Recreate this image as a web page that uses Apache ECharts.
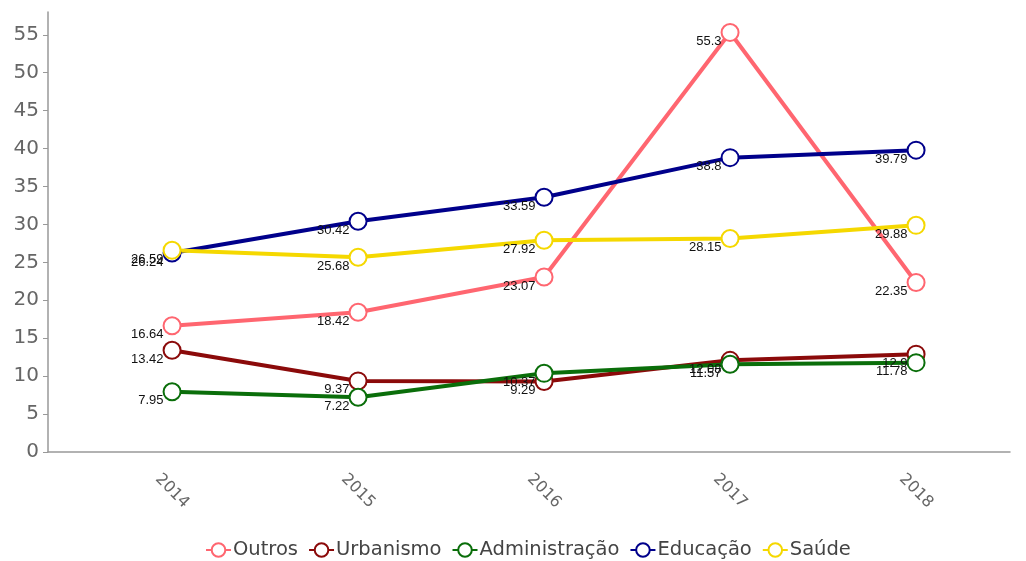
<!DOCTYPE html>
<html>
<head>
<meta charset="utf-8">
<script src="https://cdn.jsdelivr.net/npm/echarts@6/dist/echarts.min.js"></script>
<style>
html,body{margin:0;padding:0;background:#fff;}
#chart{width:1026px;height:561px;}
</style>
</head>
<body>
<div id="chart"></div>
<script>
var years = [2014, 2015, 2016, 2017, 2018];
var outros = [16.64, 18.42, 23.07, 55.3, 22.35];
var urbanismo = [13.42, 9.37, 9.29, 12.08, 12.9];
var administracao = [7.95, 7.22, 10.37, 11.57, 11.78];
var educacao = [26.24, 30.42, 33.59, 38.8, 39.79];
var saude = [26.59, 25.68, 27.92, 28.15, 29.88];
var yTicks = [0, 5, 10, 15, 20, 25, 30, 35, 40, 45, 50, 55];

var seriesDefs = [
  {name: 'Outros', data: outros, color: '#ff6670'},
  {name: 'Urbanismo', data: urbanismo, color: '#8b0a0a'},
  {name: 'Administração', data: administracao, color: '#0a6e0a'},
  {name: 'Educação', data: educacao, color: '#00008b'},
  {name: 'Saúde', data: saude, color: '#f5d800'}
];

function pairs(arr) {
  return arr.map(function (v, i) { return [years[i], v]; });
}

var chart = echarts.init(document.getElementById('chart'));
chart.setOption({
  animation: false,
  backgroundColor: '#fff',
  grid: {left: 48, right: 16, top: 12, bottom: 109, containLabel: false},
  legend: {
    left: 200,
    top: 535,
    itemWidth: 25,
    itemHeight: 17,
    itemGap: 10,
    textStyle: {fontFamily: 'DejaVu Sans', fontSize: 19.5, color: '#444', padding: [0, 0, 0, -3]},
    data: seriesDefs.map(function (s) { return s.name; })
  },
  xAxis: {
    type: 'value',
    min: 2013.333,
    max: 2018.505,
    splitLine: {show: false},
    axisLine: {lineStyle: {color: '#999', width: 1.5}},
    axisTick: {show: false},
    axisLabel: {
      customValues: years,
      rotate: -45,
      align: 'center',
      verticalAlign: 'middle',
      margin: 39,
      fontFamily: 'DejaVu Sans',
      fontSize: 16,
      color: '#666',
      formatter: function (v) { return String(Math.round(v)); }
    }
  },
  yAxis: {
    type: 'value',
    min: 0,
    max: 58,
    splitLine: {show: false},
    axisLine: {show: true, lineStyle: {color: '#999', width: 1.5}},
    axisTick: {show: true, customValues: yTicks, length: 5, lineStyle: {color: '#999'}},
    axisLabel: {
      customValues: yTicks,
      fontFamily: 'DejaVu Sans',
      fontSize: 20,
      color: '#666',
      margin: 9
    }
  },
  series: seriesDefs.map(function (s) {
    return {
      name: s.name,
      type: 'line',
      data: pairs(s.data),
      symbol: 'emptyCircle',
      symbolSize: 17,
      color: s.color,
      lineStyle: {width: 4, color: s.color},
      itemStyle: {color: s.color, borderColor: s.color, borderWidth: 3.5},
      emphasis: {disabled: true},
      label: {
        show: true,
        position: 'left',
        distance: 4,
        offset: [5, 9],
        fontFamily: 'Liberation Sans',
        fontSize: 13,
        color: '#111',
        formatter: function (p) { return String(p.value[1]); }
      }
    };
  })
});
</script>
</body>
</html>
